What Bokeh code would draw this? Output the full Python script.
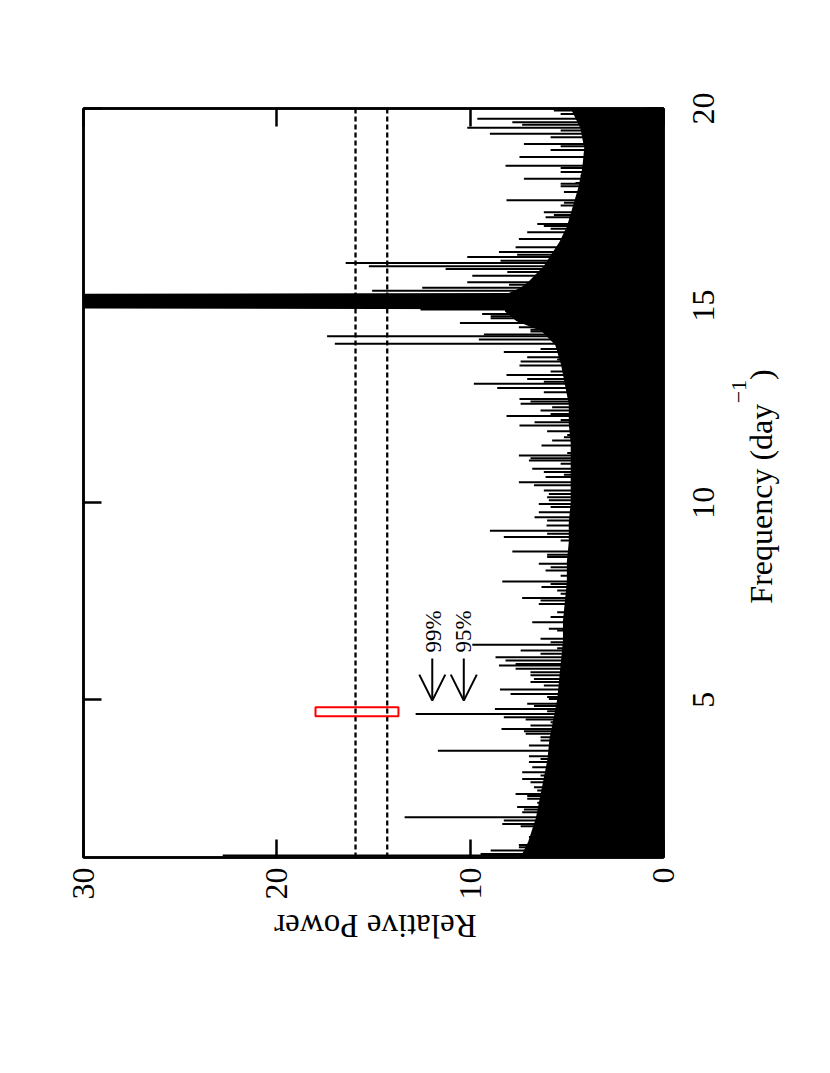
import math
from bokeh.plotting import figure
from bokeh.layouts import row, column
from bokeh.models import (Range1d, LinearAxis, FixedTicker, Span, Label, Arrow,
                          OpenHead, ColumnDataSource)
from bokeh.core.properties import value
from bokeh.embed import file_html
from bokeh.resources import INLINE

# ---------------- data ----------------
power_ticks = [0, 10, 20, 30]
freq_ticks = [5, 10, 15, 20]
freq_tick_labels = ["5", "10", "15", "20"]

# solid "floor" of the periodogram (dense noise) incl. the main peak near 15 d^-1
floor_freq = [1.0, 1.4, 2.0, 2.5, 3.0, 3.5, 4.0, 4.5, 5.0, 5.5, 6.0, 6.5, 7.0, 7.5,
              8.0, 8.5, 9.0, 9.5, 10.0, 10.5, 11.0, 11.5, 12.0, 12.5, 13.0, 13.5,
              14.0, 14.35, 14.6, 14.85, 14.91, 14.93, 15.30, 15.32, 15.45, 15.6,
              16.0, 16.3, 16.6, 17.0, 17.5, 18.0, 18.5, 19.0, 19.5, 20.0]
floor_power = [7.4, 7.0, 6.6, 6.4, 6.2, 6.0, 5.9, 5.7, 5.5, 5.4, 5.3, 5.2, 5.2, 5.1,
               5.0, 5.0, 4.9, 4.9, 4.8, 4.8, 4.8, 4.8, 4.9, 4.9, 5.1, 5.3,
               5.6, 6.3, 7.6, 8.2, 8.2, 31.0, 31.0, 8.0, 7.4, 7.0,
               6.2, 5.8, 5.4, 5.0, 4.7, 4.4, 4.2, 4.1, 4.3, 4.8]

# individual spikes (frequency in d^-1, relative power)
spike_freq = [19.95, 19.86, 19.74, 19.65, 19.59, 19.51, 19.44, 19.36, 19.27, 19.19,
              19.10, 19.04, 18.95, 18.88, 18.77, 18.68, 18.55, 18.49, 18.39, 18.30,
              18.22, 18.11, 18.09, 18.03, 17.96, 17.88, 17.79, 17.67, 17.61, 17.54,
              17.45, 17.37, 17.30, 17.24, 17.16, 17.07, 17.02, 16.95, 16.86, 16.80,
              16.69, 16.63, 16.48, 16.36, 16.29, 16.23, 16.14, 16.08, 16.00, 15.93,
              15.85, 15.76, 15.68, 15.59, 15.53, 15.45, 15.38,
              14.90, 14.79, 14.73, 14.68, 14.62, 14.56, 14.45, 14.39, 14.34, 14.27,
              14.22, 14.14, 14.03, 13.90, 13.82, 13.69, 13.63, 13.58, 13.48, 13.40,
              13.33, 13.24, 13.14, 13.07, 13.02, 12.91, 12.80, 12.76, 12.63, 12.57,
              12.51, 12.42, 12.34, 12.25, 12.20, 12.10, 12.04, 11.96, 11.89, 11.81,
              11.72, 11.66, 11.58, 11.52, 11.45, 11.38, 11.26, 11.20, 11.13, 11.07,
              10.99, 10.86, 10.78, 10.71, 10.65,
              10.52, 10.44, 10.31, 10.22, 10.14, 10.06, 9.97, 9.89, 9.76, 9.63,
              9.55, 9.42, 9.29, 9.21, 9.13, 9.04, 8.76, 8.68, 8.62, 8.45,
              8.36, 8.28, 8.15, 8.00, 7.94, 7.86, 7.77, 7.69, 7.58, 7.52,
              7.43, 7.39, 7.22, 7.10, 6.97, 6.80, 6.76, 6.55, 6.46, 6.40,
              6.31, 6.25, 6.17, 6.08, 6.00, 5.91, 5.87,
              5.79, 5.70, 5.62, 5.53, 5.45, 5.36, 5.26, 5.15, 5.07, 5.02,
              4.96, 4.90, 4.84, 4.77, 4.71, 4.64, 4.56, 4.50, 4.43, 4.35,
              4.26, 4.20, 4.14, 4.05, 3.97, 3.91, 3.84, 3.71, 3.63, 3.57,
              3.50, 3.42, 3.35, 3.29, 3.16, 3.08, 2.99, 2.91, 2.84, 2.78,
              2.70, 2.61, 2.56, 2.49, 2.39, 2.28, 2.22, 2.15, 2.02, 1.94,
              1.85, 1.79, 1.73, 1.64, 1.52, 1.46, 1.39, 1.32, 1.26, 1.18,
              1.09, 1.05]
spike_power = [5.67, 5.32, 9.63, 7.82, 7.31, 10.15, 5.32, 8.98, 5.84, 4.03,
               7.22, 5.32, 5.84, 3.95, 7.45, 3.77, 8.17, 5.32, 5.32, 4.29,
               7.22, 4.55, 5.32, 5.32, 3.95, 5.15, 4.46, 8.12, 5.15, 5.32,
               4.12, 6.19, 5.67, 6.10, 4.81, 6.53, 6.19, 5.84, 7.05, 4.29,
               7.48, 4.98, 7.65, 8.51, 7.57, 10.15, 8.43, 16.44, 15.24, 11.27,
               8.08, 9.89, 5.50, 10.15, 7.99, 12.48, 15.07,
               12.57, 9.38, 8.94, 8.94, 7.48, 10.53, 7.48, 6.88, 6.88, 9.29,
               17.4, 9.55, 17.0, 6.36, 8.26, 7.05, 5.50, 7.39, 7.45, 4.81,
               5.84, 8.12, 7.05, 6.19, 9.81, 8.60, 6.19, 4.81, 7.45, 6.88,
               7.39, 5.76, 6.36, 5.84, 8.12, 5.32, 6.67, 7.45, 4.55, 6.02,
               4.98, 5.15, 5.76, 4.29, 6.31, 4.12, 4.98, 7.48, 6.88, 6.96,
               5.32, 6.79, 6.19, 5.15, 6.10,
               7.48, 6.70, 6.19, 5.93, 6.02, 5.93, 6.45, 5.84, 6.45, 6.67,
               6.02, 6.05, 8.98, 6.02, 8.26, 5.32, 7.82, 6.02, 6.02, 6.45,
               5.84, 6.10, 5.32, 8.34, 5.84, 6.31, 5.50, 5.32, 7.31, 6.36,
               6.45, 4.98, 5.50, 5.84, 6.79, 5.93, 5.50, 6.36, 5.84, 9.89,
               5.50, 7.39, 6.36, 8.69, 8.17, 7.65, 8.51,
               7.65, 6.88, 6.88, 6.70, 6.88, 6.19, 8.46, 7.91, 6.02, 5.93,
               5.15, 7.05, 6.70, 8.72, 6.02, 12.82, 8.26, 7.13, 5.84, 6.88,
               8.38, 7.22, 7.13, 6.36, 6.36, 5.67, 6.96, 11.67, 5.84, 6.96,
               6.36, 6.96, 5.32, 6.79, 7.31, 6.36, 7.31, 6.88, 6.19, 6.70,
               6.53, 7.65, 7.05, 7.05, 6.53, 7.57, 7.22, 7.31, 13.39, 8.26,
               8.34, 7.39, 6.45, 6.02, 6.96, 6.53, 6.53, 7.48, 7.48, 8.94,
               9.46, 22.8]

# significance levels
level_labels = ["99%", "95%"]
level_values = [15.93, 14.29]

# highlighted region (red box)
box_power = [13.71, 18.0]
box_freq = [4.58, 4.81]

# ---------------- figure ----------------
FONT = "Liberation Serif"
F_LO, F_HI = 1.0, 20.0
TOP, FRAME_H, BOT = 108, 749, 50
LEFT, FRAME_W, RIGHT = 83, 580, 17
MAIN_W = LEFT + FRAME_W + RIGHT
MAIN_H = TOP + FRAME_H + BOT

p = figure(width=MAIN_W, height=MAIN_H, output_backend="svg", toolbar_location=None,
           x_range=Range1d(30, 0), y_range=Range1d(F_LO, F_HI),
           x_axis_type=None, y_axis_type=None,
           min_border_left=LEFT, min_border_top=TOP, min_border_right=RIGHT,
           min_border_bottom=BOT)
p.grid.visible = False
p.outline_line_color = "black"
p.outline_line_width = 2.5
p.background_fill_color = "white"
p.border_fill_color = "white"


def make_axis(ticks, show_labels, standoff=10):
    ax = LinearAxis(ticker=FixedTicker(ticks=ticks))
    ax.major_tick_in = 18
    ax.major_tick_out = 0
    ax.major_tick_line_width = 2.5
    ax.minor_tick_line_color = None
    ax.axis_line_width = 2.5
    ax.major_label_orientation = math.pi / 2
    if show_labels:
        ax.major_label_text_font = FONT
        ax.major_label_text_font_size = "32px"
        ax.major_label_standoff = standoff
        ax.major_label_text_color = "black"
    else:
        ax.major_label_text_color = None
        ax.major_label_text_font_size = "1px"
    return ax


p.add_layout(make_axis(power_ticks, True, 10), "below")
p.add_layout(make_axis(power_ticks, False), "above")
p.add_layout(make_axis(freq_ticks, False), "right")
p.add_layout(make_axis(freq_ticks, False), "left")

# significance lines (under the data)
for lv in level_values:
    p.add_layout(Span(location=lv, dimension="height", line_color="black",
                      line_width=2.3, line_dash="5 3", level="underlay"))

# periodogram: dense floor + spikes
p.harea(y=floor_freq, x1=[0] * len(floor_freq), x2=floor_power,
        fill_color="black")
src = ColumnDataSource(dict(f=spike_freq, pw=spike_power, z=[0] * len(spike_freq)))
p.segment(x0="z", y0="f", x1="pw", y1="f", source=src, line_color="black",
          line_width=2)

# red box
p.quad(left=[box_power[1]], right=[box_power[0]], bottom=[box_freq[0]],
       top=[box_freq[1]], fill_color=None, line_color="red", line_width=2)

# arrows + labels for significance
arrow_x = [11.96, 10.33]
label_x = [11.9, 10.34]
for lab, ax_, lx in zip(level_labels, arrow_x, label_x):
    p.add_layout(Arrow(end=OpenHead(size=26, line_width=2, line_color="black"),
                       x_start=ax_, y_start=6.05, x_end=ax_, y_end=4.98,
                       line_width=2, line_color="black"))
    p.add_layout(Label(x=lx, y=6.2, text=lab, angle=math.pi / 2,
                       text_align="left", text_baseline="alphabetic",
                       text_font=FONT, text_font_size="23px", text_color="black"))

# ---- bottom strip: "Relative Power" (upside down, as in the rotated page) ----
PB_H = 66
pb = figure(width=MAIN_W, height=PB_H, output_backend="svg", toolbar_location=None,
            x_range=p.x_range, y_range=Range1d(0, PB_H),
            x_axis_type=None, y_axis_type=None,
            min_border_left=LEFT, min_border_right=RIGHT,
            min_border_top=0, min_border_bottom=0)
pb.grid.visible = False
pb.outline_line_color = None
pb.text(x=[14.9], y=[PB_H - 18], text=["Relative Power"], angle=math.pi,
        text_align="center", text_baseline="alphabetic",
        text_font=value(FONT), text_font_size=value("33px"), text_color="black")

# ---- right strip: frequency tick labels and axis title ----
PR_W = 110
px_per_f = FRAME_H / (F_HI - F_LO)
pr = figure(width=PR_W, height=MAIN_H, output_backend="svg", toolbar_location=None,
            x_range=Range1d(0, PR_W),
            y_range=Range1d(F_LO - BOT / px_per_f, F_HI + TOP / px_per_f),
            x_axis_type=None, y_axis_type=None, min_border=0)
pr.grid.visible = False
pr.outline_line_color = None
pr.text(x=[23.3] * len(freq_ticks), y=freq_ticks, text=freq_tick_labels,
        angle=math.pi / 2, text_align="center", text_baseline="alphabetic",
        text_font=value(FONT), text_font_size=value("32px"), text_color="black")
pr.text(x=[80], y=[7.44], text=["Frequency (day"], angle=math.pi / 2,
        text_align="left", text_baseline="alphabetic",
        text_font=value(FONT), text_font_size=value("32px"), text_color="black")
pr.text(x=[58], y=[12.52], text=["\u22121"], angle=math.pi / 2,
        text_align="left", text_baseline="alphabetic",
        text_font=value(FONT), text_font_size=value("22px"), text_color="black")
pr.text(x=[80], y=[13.11], text=[")"], angle=math.pi / 2,
        text_align="left", text_baseline="alphabetic",
        text_font=value(FONT), text_font_size=value("32px"), text_color="black")

layout = row(column(p, pb), pr)
open("out.html", "w").write(file_html(layout, INLINE))
